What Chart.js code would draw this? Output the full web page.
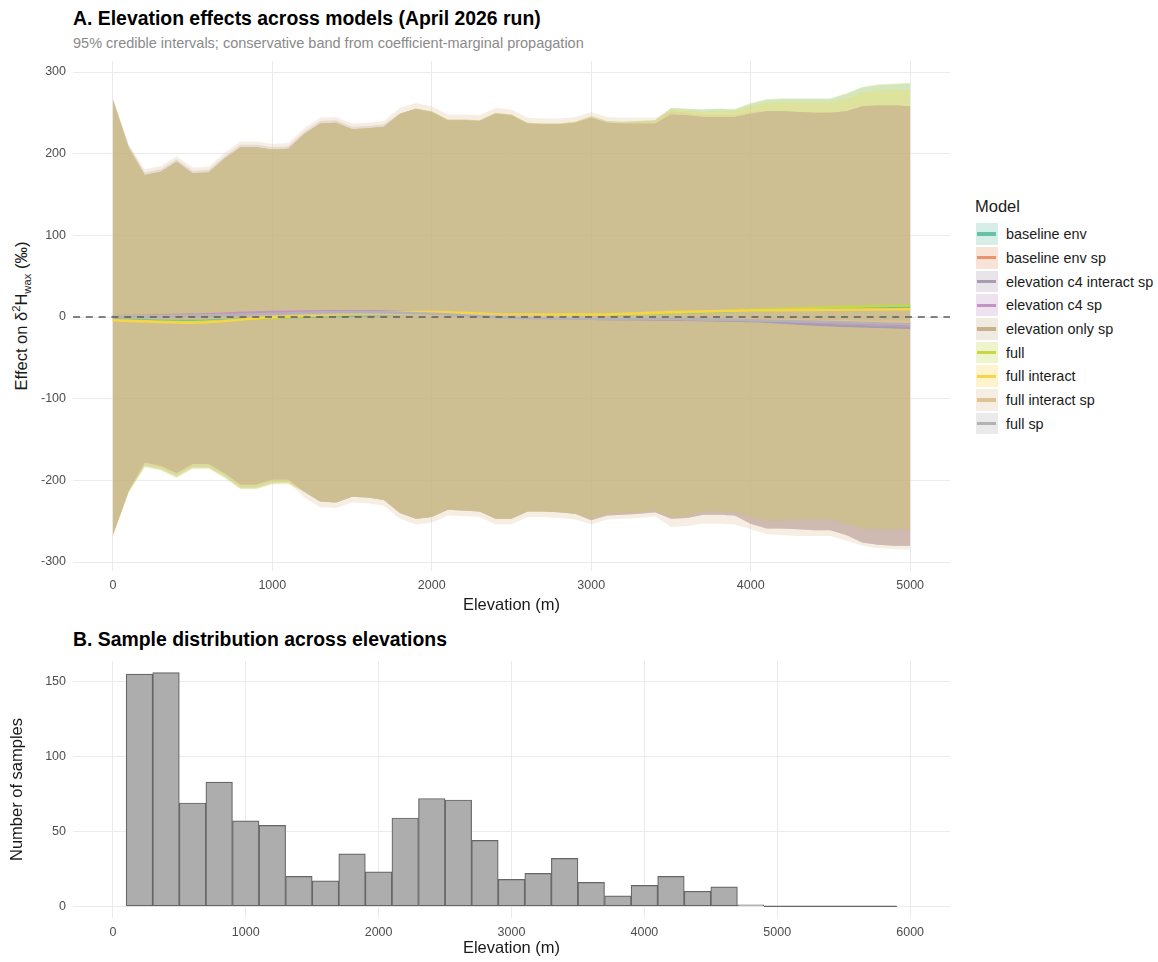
<!DOCTYPE html>
<html>
<head>
<meta charset="utf-8">
<script src="https://cdn.jsdelivr.net/npm/chart.js@4.4.1/dist/chart.umd.min.js"></script>
<style>
  html, body { margin: 0; padding: 0; background: #ffffff; }
  body { width: 1158px; height: 962px; position: relative; overflow: hidden;
         font-family: 'Liberation Sans', Arial, Helvetica, sans-serif; }
  .txt { position: absolute; white-space: nowrap; line-height: 1; }
  canvas { position: absolute; left: 0; }
  #legend { position: absolute; left: 976px; top: 223.3px; }
  .row { position: relative; height: 21.7px; margin-bottom: 2px; display: flex; align-items: center; }
  .key { position: relative; width: 21.7px; height: 21.7px; flex: none; }
  .key i { position: absolute; left: 1.3px; top: 9.2px; width: 19px; height: 3.3px; }
  .lab { margin-left: 8.3px; font-size: 14.4px; color: #1a1a1a; white-space: nowrap; }
  sup, sub { font-size: 0.68em; line-height: 0; }
</style>
</head>
<body>
<div class="txt" style="left:73px; top:9px; font-size:19.4px; font-weight:bold; color:#000;">A. Elevation effects across models (April 2026 run)</div>
<div class="txt" style="left:73px; top:36px; font-size:14.5px; color:#8a8a8a;">95% credible intervals; conservative band from coefficient-marginal propagation</div>
<div class="txt" style="left:21px; top:316px; font-size:16.5px; color:#1a1a1a; transform: translate(-50%,-50%) rotate(-90deg);">Effect on δ<sup>2</sup>H<sub>wax</sub> (‰)</div>
<div class="txt" style="left:975px; top:198px; font-size:16.5px; color:#1a1a1a;">Model</div>
<div id="legend"></div>
<div class="txt" style="left:73px; top:630px; font-size:19.4px; font-weight:bold; color:#000;">B. Sample distribution across elevations</div>

<canvas id="effects" width="960" height="625" style="top:0px;"></canvas>
<canvas id="samples" width="960" height="337" style="top:625px;"></canvas>

<script>
// ---------------- Panel A: elevation effect by model ----------------
const elevation = [0,100,200,300,400,500,600,700,800,900,1000,1100,1200,1300,1400,1500,1600,1700,1800,1900,2000,
  2100,2200,2300,2400,2500,2600,2700,2800,2900,3000,3100,3200,3300,3400,3500,3600,3700,3800,3900,4000,
  4100,4200,4300,4400,4500,4600,4700,4800,4900,5000];

const models = ['baseline env','baseline env sp','elevation c4 interact sp','elevation c4 sp',
  'elevation only sp','full','full interact','full interact sp','full sp'];

// 95% interval bounds (‰)
const upperBaselineEnv = [266,207,174,178,190,176,177,194,208,208,205,206,224,237,238,230,231,233,249,255,
  252,242,242,241,250,248,238,237,237,239,246,240,239,240,241,256,255,254,255,254,261,266,267,267,267,267,273,281,284,285,286];
const lowerBaselineEnv = [-267,-214,-183,-187,-196,-185,-185,-196,-210,-210,-204,-203,-214,-226,-227,-220,-221,-224,-240,-247,
  -245,-236,-237,-238,-247,-247,-238,-238,-239,-241,-247,-241,-240,-239,-237,-245,-244,-238,-238,-239,-245,-249,-249,-248,-248,-248,-253,-259,-260,-260,-260];

// species-effect models share the same interval envelope
const upperSpModels = [266,207,174,178,190,176,177,194,208,208,205,206,224,237,238,230,231,233,249,255,
  251,241,241,240,249,247,237,236,236,238,244,238,237,237,237,248,247,245,245,245,249,252,252,251,250,250,252,258,259,259,258];
const lowerSpModels = [-267,-212,-178,-182,-191,-180,-180,-191,-205,-205,-199,-199,-214,-226,-227,-220,-221,-224,-240,-247,
  -245,-236,-237,-238,-247,-247,-238,-238,-239,-241,-249,-243,-242,-241,-239,-247,-246,-242,-242,-243,-253,-259,-259,-260,-261,-261,-267,-276,-279,-280,-280];

const upperC4InteractSp = [266,210,177,181,193,179,180,197,211,211,208,209,227,240,241,233,234,236,249,255,
  251,241,241,240,249,247,237,236,236,238,244,238,237,237,237,248,247,245,245,245,249,252,252,251,250,250,252,258,259,259,258];

const upperFull = [266,207,174,178,190,176,177,194,208,208,205,206,224,237,238,230,231,233,249,255,
  252,242,242,241,250,248,238,237,237,239,246,240,239,240,241,256,255,254,255,255,262,267,268,268,268,268,274,282,285,286,287];
const lowerFull = [-267,-215,-184,-188,-197,-186,-186,-197,-211,-211,-205,-205,-214,-226,-227,-220,-221,-224,-240,-247,
  -245,-236,-237,-238,-247,-247,-238,-238,-239,-241,-247,-241,-240,-239,-237,-245,-244,-238,-238,-239,-245,-249,-249,-248,-248,-248,-253,-259,-260,-260,-260];

const upperFullInteract = [266,207,174,178,190,176,177,194,208,208,205,206,224,237,238,230,231,233,249,255,
  252,242,242,241,250,248,238,237,237,239,245,239,238,239,240,254,253,251,252,252,258,262,263,263,263,263,267,275,277,278,278];
const lowerFullInteract = [-268,-214,-182,-186,-195,-184,-184,-195,-209,-209,-203,-203,-214,-226,-227,-220,-221,-224,-240,-247,
  -245,-236,-237,-238,-247,-247,-238,-238,-239,-241,-247,-241,-240,-239,-237,-245,-244,-238,-238,-239,-245,-249,-249,-248,-248,-248,-253,-259,-260,-260,-260];

const upperFullInteractSp = [269,211,181,185,197,183,184,201,215,215,212,213,231,244,245,237,238,240,256,262,
  258,248,248,247,256,254,244,243,243,245,251,245,244,244,244,252,250,247,247,247,251,252,252,251,250,250,252,258,259,259,258];
const lowerFullInteractSp = [-268,-214,-181,-185,-194,-183,-183,-194,-208,-208,-202,-202,-221,-233,-234,-227,-228,-231,-247,-254,
  -252,-243,-244,-245,-254,-254,-245,-245,-246,-248,-254,-248,-247,-246,-244,-257,-256,-253,-253,-254,-260,-266,-267,-268,-268,-268,-274,-280,-283,-284,-285];

// posterior median effect (‰), every 500 m
const medianElevation = [0,500,1000,1500,2000,2500,3000,3500,4000,4500,5000];
const midBaselineEnv    = [-3,-5,-1,2,3,3,3,5,8,11,13];
const midBaselineEnvSp  = [0,1,3,4,3,0,-1,-2,-3,-5,-7];
const midC4InteractSp   = [0,2,5,7,5,1,-2,-3,-5,-10,-13];
const midC4Sp           = [1,3,6,7,5,1,-1,-2,-4,-7,-10];
const midElevOnlySp     = [1,2,3,4,3,0,-1,-2,-3,-5,-7];
const midFull           = [-4,-6,-1,3,4,3,3,5,9,12,14];
const midFullInteract   = [-4,-7,0,4,6,3,3,6,8,9,9.5];
const midFullInteractSp = [0,1,3,4,3,1,-1,-2,-3,-5,-6];
const midFullSp         = [0,1,4,6,4,-1,-2,-2,-4,-6,-9];

const effectTicksX = [0,1000,2000,3000,4000,5000];
const effectTicksY = [-300,-200,-100,0,100,200,300];
const zeroEffect = 0;

// ---------------- Panel B: sample counts ----------------
const binCenters = [200,400,600,800,1000,1200,1400,1600,1800,2000,2200,2400,2600,2800,3000,
  3200,3400,3600,3800,4000,4200,4400,4600,4800,5000,5200,5400,5600,5800];
const binCounts = [155,156,69,83,57,54,20,17,35,23,59,72,71,44,18,22,32,16,7,14,20,10,13,1,0,0,0,0,0];
const binWidth = 200;
const sampleTicksX = [0,1000,2000,3000,4000,5000,6000];
const sampleTicksY = [0,50,100,150];

// ---------------- styling ----------------
const palette = ['#66C2A5','#E9946A','#A99BB1','#C592C6','#C6B18B','#C7D846','#F8D448','#DFC298','#B3B3B3'];
const ribbonAlpha = 0.27;
const FONT = "'Liberation Sans', Arial, Helvetica, sans-serif";
const gridColor = '#EBEBEB';
const tickColor = '#4D4D4D';

function rgba(hex, a) {
  const n = parseInt(hex.slice(1), 16);
  return `rgba(${(n >> 16) & 255},${(n >> 8) & 255},${n & 255},${a})`;
}

const uppers = [upperBaselineEnv, upperSpModels, upperC4InteractSp, upperSpModels, upperSpModels,
  upperFull, upperFullInteract, upperFullInteractSp, upperSpModels];
const lowers = [lowerBaselineEnv, lowerSpModels, lowerSpModels, lowerSpModels, lowerSpModels,
  lowerFull, lowerFullInteract, lowerFullInteractSp, lowerSpModels];
const medians = [midBaselineEnv, midBaselineEnvSp, midC4InteractSp, midC4Sp, midElevOnlySp,
  midFull, midFullInteract, midFullInteractSp, midFullSp];

// legend
const legendEl = document.getElementById('legend');
models.forEach((name, k) => {
  const row = document.createElement('div');
  row.className = 'row';
  row.innerHTML = `<div class="key" style="background:${rgba(palette[k], ribbonAlpha)}"><i style="background:${palette[k]}"></i></div><span class="lab">${name}</span>`;
  legendEl.appendChild(row);
});

const pts = (xs, ys) => xs.map((x, i) => ({ x, y: ys[i] }));

// ribbons: lower edge (invisible) + upper edge filled down to it; earlier models drawn underneath
const effectSets = [];
models.forEach((name, k) => {
  const lowerIdx = effectSets.length;
  effectSets.push({
    label: name + ' lower', data: pts(elevation, lowers[k]),
    borderWidth: 0, borderColor: 'rgba(0,0,0,0)', pointRadius: 0, fill: false, order: 300
  });
  effectSets.push({
    label: name + ' band', data: pts(elevation, uppers[k]),
    borderWidth: 0, borderColor: 'rgba(0,0,0,0)', pointRadius: 0,
    backgroundColor: rgba(palette[k], ribbonAlpha), fill: lowerIdx, order: 200 - k
  });
});
models.forEach((name, k) => {
  effectSets.push({
    label: name, data: pts(medianElevation, medians[k]),
    borderColor: palette[k], borderWidth: 2.5, pointRadius: 0, fill: false,
    cubicInterpolationMode: 'monotone', order: 100 - k
  });
});
const effectXMin = -250, effectXMax = 5250;
effectSets.push({
  label: 'zero', data: [{ x: effectXMin, y: zeroEffect }, { x: effectXMax, y: zeroEffect }],
  borderColor: '#5c5c5c', borderWidth: 1.3, borderDash: [7, 5.8], pointRadius: 0, fill: false, order: 0
});

const fixedTicks = arr => scale => { scale.ticks = arr.map(v => ({ value: v })); };

new Chart(document.getElementById('effects'), {
  type: 'line',
  data: { datasets: effectSets },
  options: {
    responsive: false, animation: false, events: [],
    layout: { padding: { top: 61, right: 10, bottom: 0, left: 0 } },
    plugins: { legend: { display: false }, tooltip: { enabled: false } },
    scales: {
      x: {
        type: 'linear', min: effectXMin, max: effectXMax,
        afterBuildTicks: fixedTicks(effectTicksX),
        afterFit: s => { s.height = 54; },
        grid: { color: gridColor, lineWidth: 1, drawTicks: false },
        border: { display: false },
        ticks: { color: tickColor, font: { family: FONT, size: 12.5 }, padding: 7, maxRotation: 0, callback: v => String(v) },
        title: { display: true, text: 'Elevation (m)', color: '#1a1a1a', font: { family: FONT, size: 16.5 }, padding: { top: 0, bottom: 10 } }
      },
      y: {
        type: 'linear', min: -311, max: 313.5,
        afterBuildTicks: fixedTicks(effectTicksY),
        afterFit: s => { s.width = 73; },
        grid: { color: gridColor, lineWidth: 1, drawTicks: false },
        border: { display: false },
        ticks: { color: tickColor, font: { family: FONT, size: 12.5 }, padding: 7, callback: v => String(v) }
      }
    }
  }
});

// histogram
const emptyBins = binCenters.flatMap((c, i) => binCounts[i] === 0
  ? [{ x: c - binWidth / 2, y: 0 }, { x: c + binWidth / 2, y: 0 }] : []);

new Chart(document.getElementById('samples'), {
  type: 'bar',
  data: {
    datasets: [
      {
        type: 'line', label: 'empty bins', data: emptyBins,
        borderColor: '#666666', borderWidth: 1.2, pointRadius: 0, fill: false, order: 0
      },
      {
        type: 'bar', label: 'samples', data: pts(binCenters, binCounts),
        backgroundColor: '#ADADAD', borderColor: '#666666', borderWidth: 1.2, borderSkipped: false,
        barPercentage: 1, categoryPercentage: 1, order: 1
      }
    ]
  },
  options: {
    responsive: false, animation: false, events: [],
    layout: { padding: { top: 36, right: 10, bottom: 0, left: 0 } },
    plugins: { legend: { display: false }, tooltip: { enabled: false } },
    scales: {
      x: {
        type: 'linear', min: -300, max: 6300, offset: false,
        afterBuildTicks: fixedTicks(sampleTicksX),
        afterFit: s => { s.height = 44; },
        grid: { color: gridColor, lineWidth: 1, drawTicks: false, offset: false },
        border: { display: false },
        ticks: { color: tickColor, font: { family: FONT, size: 12.5 }, padding: 7, maxRotation: 0, callback: v => String(v) },
        title: { display: true, text: 'Elevation (m)', color: '#1a1a1a', font: { family: FONT, size: 16.5 }, padding: { top: 0, bottom: 4 } }
      },
      y: {
        type: 'linear', min: -7.8, max: 163.8,
        afterBuildTicks: fixedTicks(sampleTicksY),
        afterFit: s => { s.width = 73; },
        grid: { color: gridColor, lineWidth: 1, drawTicks: false },
        border: { display: false },
        ticks: { color: tickColor, font: { family: FONT, size: 12.5 }, padding: 7, callback: v => String(v) },
        title: { display: true, text: 'Number of samples', color: '#1a1a1a', font: { family: FONT, size: 16.5 }, padding: { top: 7.6, bottom: 0 } }
      }
    }
  }
});
</script>
</body>
</html>
